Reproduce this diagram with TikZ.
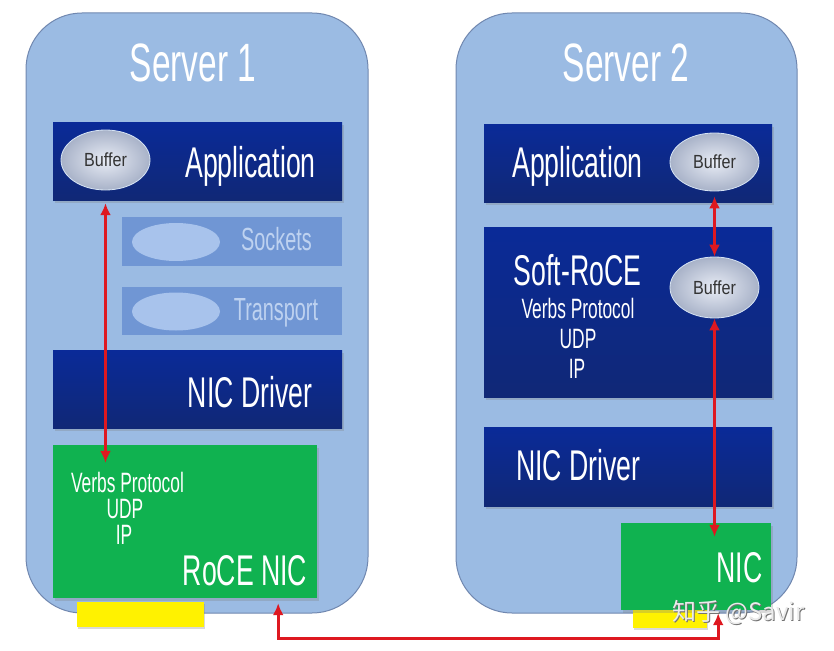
\documentclass[tikz,border=0pt]{standalone}
\usepackage{fontspec}
\setmainfont{Liberation Sans}[FakeStretch=0.62]
\newfontfamily\buffont{Liberation Sans}[FakeStretch=0.85]
\newfontfamily\cjk{Noto Sans CJK SC}
\usetikzlibrary{arrows.meta, shapes.geometric, shadows, calc}
\definecolor{srvblue}{RGB}{155,187,227}
\definecolor{srvline}{RGB}{112,135,175}
\definecolor{navytop}{RGB}{10,42,152}
\definecolor{navybot}{RGB}{16,40,118}
\definecolor{fadeblue}{RGB}{112,150,212}
\definecolor{fadeoval}{RGB}{168,195,236}
\definecolor{fadetext}{RGB}{190,210,240}
\definecolor{nicgreen}{RGB}{16,178,80}
\definecolor{bufin}{RGB}{232,236,245}
\definecolor{bufout}{RGB}{168,178,200}
\definecolor{linkred}{RGB}{222,24,32}

\begin{document}
\begin{tikzpicture}[x=1pt, y=-1pt,
	server/.style={draw=srvline, line width=1pt, fill=srvblue, rounded corners=56pt, inner sep=0pt},
	layer/.style={top color=navytop, bottom color=navybot, inner sep=0pt, drop shadow={shadow xshift=1.5pt, shadow yshift=-2.5pt, opacity=0.3}},
	faded/.style={fill=fadeblue, inner sep=0pt},
	nic/.style={fill=nicgreen, inner sep=0pt, drop shadow={shadow xshift=1.5pt, shadow yshift=-2.5pt, opacity=0.3}},
	port/.style={fill=yellow, inner sep=0pt, drop shadow={shadow xshift=1pt, shadow yshift=-2pt, opacity=0.3}},
	buffer/.style={ellipse, draw=white!60!srvblue, line width=0.8pt, inner color=bufin, outer color=bufout, inner sep=0pt, minimum width=89pt, minimum height=60pt, font=\buffont\fontsize{19}{19}\selectfont, text=black!80},
	oval/.style={ellipse, fill=fadeoval, inner sep=0pt, minimum width=88pt, minimum height=38pt},
	title/.style={text=white, font=\fontsize{54}{54}\selectfont, inner sep=0pt, anchor=base},
	big/.style={text=white, font=\fontsize{43}{43}\selectfont, inner sep=0pt, anchor=base},
	faint/.style={text=fadetext, font=\fontsize{32}{32}\selectfont, inner sep=0pt, anchor=base},
	small/.style={text=white, font=\fontsize{28}{28}\selectfont, inner sep=0pt, anchor=base},
	watermark/.style={inner sep=0pt, anchor=base west, font=\cjk\fontsize{24}{24}\selectfont},
	link/.style={{Latex[length=12pt,width=11pt]}-{Latex[length=12pt,width=11pt]}, line width=3pt, draw=linkred}
]
	\useasboundingbox (0,0) rectangle (834,650);

	\node[server, minimum width=342pt, minimum height=600pt] (srv1) at (197,313) {};
	\node[server, minimum width=341pt, minimum height=600pt] (srv2) at (626.5,313) {};
	\node[title] (title1) at (193,82) {Server 1};
	\node[title] (title2) at (626,82) {Server 2};

	\node[layer, minimum width=289pt, minimum height=78pt] (app1) at (197.5,161) {};
	\node[faded, minimum width=220pt, minimum height=49pt] (sock) at (232,241.5) {};
	\node[faded, minimum width=220pt, minimum height=48pt] (trans) at (232,311) {};
	\node[layer, minimum width=289pt, minimum height=78pt] (drv1) at (197.5,389) {};
	\node[nic, minimum width=264pt, minimum height=153pt] (lnic) at (185,521.5) {};
	\node[port, minimum width=127pt, minimum height=25pt] (port1) at (140.5,614.5) {};

	\node[buffer] (buf1) at (105.5,160) {Buffer};
	\node[oval] (sockov) at (176,242) {};
	\node[oval] (transov) at (176,311.5) {};
	\node[big] (app1txt) at (250.5,177) {Application};
	\node[faint] (socktxt) at (276.5,250) {Sockets};
	\node[faint] (transtxt) at (276,320) {Transport};
	\node[big] (drv1txt) at (250,407) {NIC Driver};
	\node[small] (verbs1) at (127.5,492) {Verbs Protocol};
	\node[small] (udp1) at (125,518) {UDP};
	\node[small] (ip1) at (124,544) {IP};
	\node[big] (lnictxt) at (245,585) {RoCE NIC};

	\node[layer, minimum width=288pt, minimum height=78pt] (app2) at (628,163) {};
	\node[layer, minimum width=288pt, minimum height=170pt] (soft) at (628,312) {};
	\node[layer, minimum width=288pt, minimum height=79pt] (drv2) at (628,466.5) {};
	\node[port, minimum width=74pt, minimum height=18pt] (port2) at (670,619) {};
	\node[nic, minimum width=150pt, minimum height=87pt] (rnic) at (696,566.5) {};

	\node[buffer, minimum height=58pt] (buf2) at (714.5,162) {Buffer};
	\node[buffer, minimum height=61pt] (buf3) at (714.5,287.5) {Buffer};
	\node[big] (app2txt) at (577.5,177) {Application};
	\node[big] (softtxt) at (577.5,285) {Soft-RoCE};
	\node[small] (verbs2) at (578,318) {Verbs Protocol};
	\node[small] (udp2) at (578,348) {UDP};
	\node[small] (ip2) at (577,378) {IP};
	\node[big] (drv2txt) at (578.5,480) {NIC Driver};
	\node[big] (rnictxt) at (739.5,582) {NIC};

	\coordinate (bus) at (500,638);
	\draw[link] ($(app1.south -| buf1)+(0,3)$) -- ($(lnic.north -| buf1)+(0,18)$);
	\draw[link, shorten <=5pt] (buf2) -- (buf3);
	\draw[link] (buf3) -- ($(rnic.north -| buf3)+(0,14)$);
	\draw[link] ([xshift=-39pt,yshift=-5pt]lnic.south east) |- (bus) -| ([xshift=-53pt,yshift=-3pt]rnic.south east);

	\node[watermark, text=black!55] (markshade) at (673,621) {知乎 @Savir};
	\node[watermark, text=black!8] (markname) at (672,620) {知乎 @Savir};
\end{tikzpicture}
\end{document}
